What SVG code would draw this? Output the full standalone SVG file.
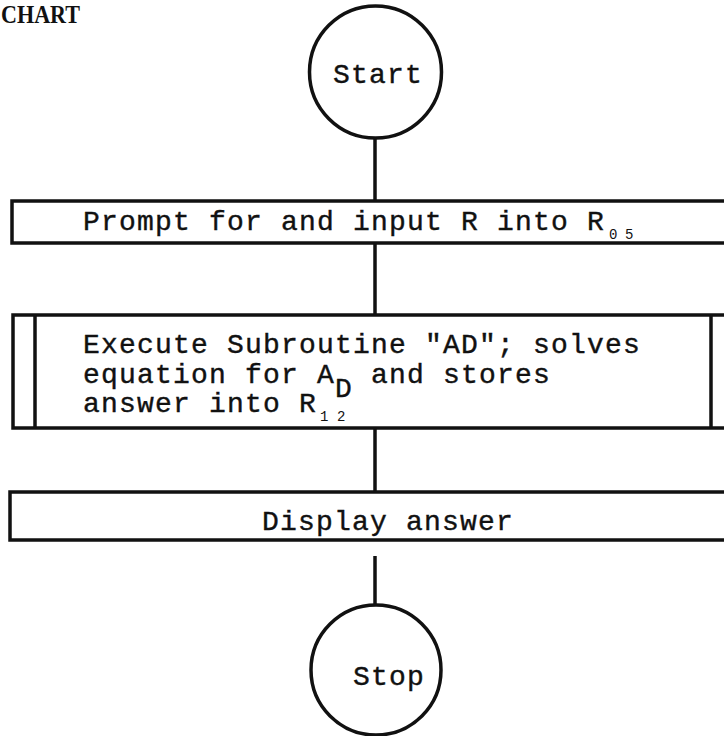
<svg xmlns="http://www.w3.org/2000/svg" width="724" height="736" viewBox="0 0 724 736">
<style>
.t{font-family:"Liberation Mono","DejaVu Sans Mono",monospace;font-size:28px;letter-spacing:1.2px;fill:#111;stroke:#111;stroke-width:0.4}
.s{font-family:"Liberation Mono","DejaVu Sans Mono",monospace;font-size:14px;fill:#111}
.box{fill:#fff;stroke:#111;stroke-width:3.5}
.ln{stroke:#111;stroke-width:3.5;fill:none}
.c{fill:#fff;stroke:#111;stroke-width:3.5}
</style>
<rect width="724" height="736" fill="#fff"/>
<text x="1" y="23" textLength="79" lengthAdjust="spacingAndGlyphs" style="font-family:'Liberation Serif',serif;font-size:25px;font-weight:bold;fill:#111">CHART</text>
<g id="connectors">
<line class="ln" x1="375" y1="138" x2="375" y2="201"/>
<line class="ln" x1="375" y1="243" x2="375" y2="315"/>
<line class="ln" x1="375" y1="428" x2="375" y2="492"/>
<line class="ln" x1="375" y1="556" x2="375" y2="605"/>
</g>
<g id="start">
<circle class="c" cx="375.5" cy="72" r="66"/>
<text class="t" x="333" y="83">Start</text>
</g>
<g id="prompt">
<rect class="box" x="12" y="201" width="730" height="42"/>
<text class="t" x="83" y="230">Prompt for and input R into R</text>
<text class="s" x="609" y="239">0</text>
<text class="s" x="625" y="239">5</text>
</g>
<g id="subroutine">
<rect class="box" x="13" y="315" width="730" height="113"/>
<line class="ln" x1="35" y1="315" x2="35" y2="428"/>
<line class="ln" x1="711" y1="315" x2="711" y2="428"/>
<text class="t" x="83" y="353">Execute Subroutine "AD"; solves</text>
<text class="t" x="83" y="383">equation for A</text>
<text class="t" x="335" y="397">D</text>
<text class="t" x="371" y="383">and stores</text>
<text class="t" x="83" y="412">answer into R</text>
<text class="s" x="320" y="421">1</text>
<text class="s" x="337" y="421">2</text>
</g>
<g id="display">
<rect class="box" x="10" y="492" width="730" height="48"/>
<text class="t" x="262" y="530">Display answer</text>
</g>
<g id="stop">
<circle class="c" cx="376" cy="670" r="65"/>
<text class="t" x="353" y="685">Stop</text>
</g>
</svg>
